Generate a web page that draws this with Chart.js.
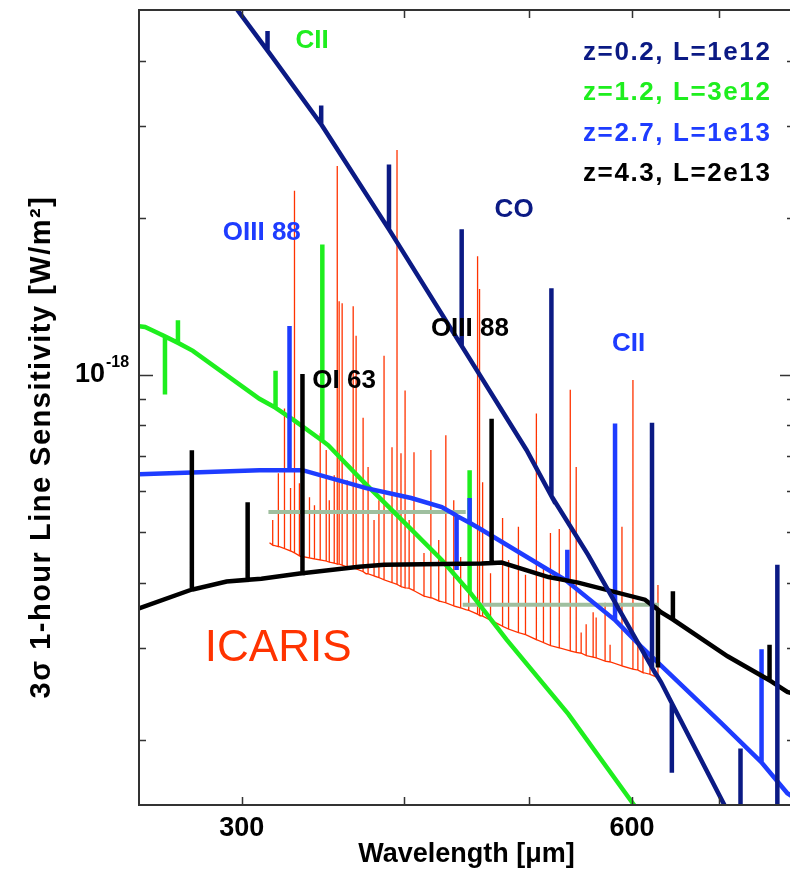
<!DOCTYPE html>
<html>
<head>
<meta charset="utf-8">
<title>3σ 1-hour line sensitivity</title>
<script src="https://cdn.jsdelivr.net/npm/chart.js@4.4.1/dist/chart.umd.min.js"></script>
<style>
  html, body { margin: 0; padding: 0; background: #fff; overflow: hidden; }
  #wrap { position: relative; width: 800px; height: 871px; }
</style>
</head>
<body>
<div id="wrap"><canvas id="sens-chart" width="800" height="871"></canvas></div>
<script>
// flux values are in units of 1e-18 W/m^2, wavelengths in micron
const X_TICKS = [300, 400, 500, 600, 700];
const X_LABELS = [300, 600];
const Y_TICKS = [0.2, 0.3, 0.4, 0.5, 0.6, 0.7, 0.8, 0.9, 1, 2, 3, 4];

// model curves: [wavelength, flux]; lines: [wavelength, base, peak]
const navyCurve = [[291, 5.40], [497.5, 0.718], [555, 0.452], [631.7, 0.258], [707, 0.150], [800, 0.084]];
const navyLines = [[314.1, 4.18, 4.56], [345.5, 3.02, 3.28], [389.7, 1.90, 2.53], [443.4, 1.136, 1.90],
  [520, 0.586, 1.466], [621.7, 0.275, 0.81], [644, 0.235, 0.173], [727.5, 0.131, 0.1925], [776.7, 0.0953, 0.433]];

const greenCurve = [[250, 1.240], [252.7, 1.235], [259.5, 1.198], [275.1, 1.112], [309.6, 0.900], [329.5, 0.817],
  [349.9, 0.733], [371.5, 0.628], [396.7, 0.534], [428, 0.442], [454.5, 0.371], [480.2, 0.311], [535.9, 0.224],
  [601, 0.151], [628.3, 0.1296]];
const greenLines = [[261.8, 1.185, 0.917], [267.9, 1.152, 1.273], [318.6, 0.865, 1.018], [346.2, 0.748, 1.777],
  [449.7, 0.384, 0.657]];

const blueCurve = [[250, 0.645], [278.5, 0.651], [309.6, 0.657], [334.2, 0.657], [374.2, 0.607], [405.3, 0.581],
  [428, 0.558], [438.7, 0.539], [459.4, 0.505], [517.3, 0.423], [533, 0.405], [609.6, 0.302], [628.3, 0.281],
  [702.2, 0.216], [790.6, 0.158], [800, 0.155]];
const blueLines = [[326.6, 0.657, 1.240], [439.4, 0.537, 0.423], [449.7, 0.521, 0.581], [534.9, 0.402, 0.4625],
  [582.2, 0.339, 0.807], [755.2, 0.181, 0.298]];

const blackCurve = [[250, 0.357], [275.1, 0.388], [292.1, 0.402], [310.7, 0.407], [333.6, 0.417], [369.5, 0.429],
  [386.3, 0.433], [459.4, 0.435], [476, 0.437], [517.3, 0.410], [545.3, 0.400], [614, 0.371], [631.7, 0.351],
  [711, 0.289], [790.6, 0.247], [800, 0.245]];
const blackLines = [[274.6, 0.388, 0.7175], [303.2, 0.405, 0.570], [334.2, 0.417, 1.004], [467.6, 0.436, 0.824],
  [628.3, 0.355, 0.275], [645.2, 0.340, 0.385], [766, 0.260, 0.304]];

const grayA = [[314.6, 0.546], [446.6, 0.546]];
const grayB = [[444.2, 0.363], [629.4, 0.363]];

// ICARIS spectrum: continuum plus emission lines
const icarisContinuum = [[315.2, 0.477], [320.8, 0.469], [329.5, 0.456], [338.4, 0.446], [350.5, 0.438],
  [363.1, 0.429], [374.2, 0.416], [386.3, 0.405], [396.7, 0.395], [420.6, 0.374], [446.6, 0.355], [473.4, 0.333],
  [512.7, 0.307], [543.3, 0.294], [577.1, 0.282], [611.8, 0.269], [628.3, 0.263]];
const icarisLines = [[317, 0.472, 0.527], [320.2, 0.469, 0.648], [323.7, 0.465, 0.862], [327.2, 0.460, 0.607],
  [329.5, 0.456, 2.253], [332.4, 0.450, 0.620], [338.4, 0.446, 0.583], [341.4, 0.444, 0.563], [344.9, 0.442, 0.773],
  [348.6, 0.440, 0.718], [350.5, 0.438, 0.575], [353.6, 0.436, 0.642], [355.5, 0.434, 2.513], [356.7, 0.434, 1.384],
  [358.6, 0.432, 1.372], [361.8, 0.429, 0.628], [365.7, 0.427, 1.354], [367.6, 0.425, 1.188], [372.2, 0.420, 0.828],
  [375.5, 0.416, 0.666], [379.5, 0.412, 0.527], [382.8, 0.409, 0.575], [386.3, 0.405, 1.088], [391.8, 0.400, 0.727],
  [395.3, 0.397, 2.696], [398.1, 0.393, 0.708], [401, 0.391, 0.933], [403.9, 0.390, 0.527], [407.4, 0.386, 0.711],
  [414.7, 0.377, 0.456], [419.8, 0.374, 0.718], [425.7, 0.369, 0.483], [431.1, 0.366, 0.766], [437.2, 0.361, 0.575],
  [442.6, 0.358, 0.448], [449, 0.354, 0.483], [456.1, 0.348, 1.687], [457.7, 0.346, 1.460], [460.2, 0.345, 0.623],
  [466.7, 0.339, 0.417], [476.8, 0.330, 0.532], [481.9, 0.326, 0.442], [490.4, 0.321, 0.512], [496.6, 0.318, 0.414],
  [506.3, 0.311, 0.843], [512.7, 0.307, 0.429], [519.1, 0.303, 0.498], [527.3, 0.300, 0.507], [537.7, 0.296, 0.937],
  [543.4, 0.294, 0.666], [548.2, 0.293, 0.321], [553.1, 0.290, 0.333], [560, 0.288, 0.351], [563, 0.287, 0.343],
  [572, 0.283, 0.366], [577.1, 0.282, 0.304], [589.4, 0.277, 0.512], [601, 0.273, 0.978], [606.3, 0.272, 0.304],
  [611.8, 0.269, 0.294], [619.5, 0.267, 0.292], [628.3, 0.263, 0.396]];

const LEGEND = ['z=0.2, L=1e12', 'z=1.2, L=3e12', 'z=2.7, L=1e13', 'z=4.3, L=2e13'];

const NAVY = '#0b1a84';
const GREEN = '#1eee1e';
const BLUE = '#1e3cff';
const BLACK = '#000000';
const RED = '#ff3300';
const GRAY = '#9fbf9f';
const FONT = "'Liberation Sans', Arial, Helvetica, sans-serif";

// line labels, anchored in data space
const NOTES = [
  { text: 'CII', x: 330.1, y: 4.37, color: GREEN },
  { text: 'OIII 88', x: 290.1, y: 1.874, color: BLUE },
  { text: 'CO', x: 470.1, y: 2.073, color: NAVY },
  { text: 'OIII 88', x: 419.8, y: 1.225, color: BLACK },
  { text: 'OI 63', x: 340.1, y: 0.974, color: BLACK },
  { text: 'CII', x: 579.1, y: 1.146, color: BLUE },
];
const ICARIS_NOTE = { text: 'ICARIS', x: 281, y: 0.299, color: RED };

function trace(curve, lines) {
  const pts = curve.map(([x, y]) => ({ x, y, k: 0 }));
  lines.forEach(([x, base, peak]) => {
    pts.push({ x, y: base, k: 1 }, { x, y: peak, k: 2 }, { x, y: base, k: 3 });
  });
  pts.sort((a, b) => a.x - b.x || a.k - b.k);
  return pts.map(({ x, y }) => ({ x, y }));
}

function series(label, data, color, width, order) {
  return {
    label, data, order,
    borderColor: color,
    borderWidth: width,
    pointRadius: 0,
    fill: false,
    tension: 0,
    clip: 0,
    borderJoinStyle: 'miter',
  };
}

const framePlugin = {
  id: 'frame',
  afterDraw(chart) {
    const { ctx, chartArea: a, scales: { x, y } } = chart;
    ctx.save();
    ctx.strokeStyle = '#333';
    ctx.lineWidth = 2;
    ctx.strokeRect(a.left, a.top, a.right - a.left, a.bottom - a.top);

    ctx.lineWidth = 1.5;
    ctx.beginPath();
    x.ticks.forEach((t) => {
      const px = Math.round(x.getPixelForValue(t.value)) + 0.5;
      ctx.moveTo(px, a.bottom); ctx.lineTo(px, a.bottom - 8);
      ctx.moveTo(px, a.top); ctx.lineTo(px, a.top + 8);
    });
    y.ticks.forEach((t) => {
      const py = Math.round(y.getPixelForValue(t.value)) + 0.5;
      const len = Math.abs(t.value - 1) < 1e-9 ? 14 : 7;
      ctx.moveTo(a.left, py); ctx.lineTo(a.left + len, py);
      ctx.moveTo(a.right, py); ctx.lineTo(a.right - len, py);
    });
    ctx.stroke();

    // 10^-18 tick label
    const p1 = y.getPixelForValue(1);
    ctx.fillStyle = '#000';
    ctx.textBaseline = 'middle';
    ctx.textAlign = 'right';
    ctx.font = `bold 27px ${FONT}`;
    ctx.fillText('10', 105, p1);
    ctx.textAlign = 'left';
    ctx.font = `bold 16px ${FONT}`;
    ctx.fillText('-18', 106, p1 - 12);

    // y axis title
    ctx.save();
    ctx.translate(42, 447);
    ctx.rotate(-Math.PI / 2);
    ctx.textAlign = 'center';
    ctx.font = `bold 29px ${FONT}`;
    if ('letterSpacing' in ctx) ctx.letterSpacing = '1.5px';
    ctx.fillText('3σ 1-hour Line Sensitivity [W/m²]', 0, 0);
    ctx.restore();

    // line labels
    ctx.textAlign = 'left';
    ctx.font = `bold 26px ${FONT}`;
    NOTES.forEach((n) => {
      ctx.fillStyle = n.color;
      ctx.fillText(n.text, x.getPixelForValue(n.x), y.getPixelForValue(n.y));
    });
    ctx.font = `44px ${FONT}`;
    ctx.fillStyle = ICARIS_NOTE.color;
    ctx.fillText(ICARIS_NOTE.text, x.getPixelForValue(ICARIS_NOTE.x), y.getPixelForValue(ICARIS_NOTE.y));

    // legend, top right
    const colors = [NAVY, GREEN, BLUE, BLACK];
    ctx.font = `bold 26px ${FONT}`;
    if ('letterSpacing' in ctx) ctx.letterSpacing = '1.6px';
    LEGEND.forEach((txt, i) => {
      ctx.fillStyle = colors[i];
      ctx.fillText(txt, a.right - 211, a.top + 42.5 + i * 40.5);
    });
    ctx.restore();
  },
};

const ctx = document.getElementById('sens-chart').getContext('2d');
new Chart(ctx, {
  type: 'line',
  data: {
    datasets: [
      series('z=0.2, L=1e12', trace(navyCurve, navyLines), NAVY, 4.5, 1),
      series('z=4.3, L=2e13', trace(blackCurve, blackLines), BLACK, 4.5, 2),
      series('z=2.7, L=1e13', trace(blueCurve, blueLines), BLUE, 4.5, 3),
      series('z=1.2, L=3e12', trace(greenCurve, greenLines), GREEN, 4.5, 4),
      series('limit A', grayA.map(([x, y]) => ({ x, y })), GRAY, 4, 5),
      series('limit B', grayB.map(([x, y]) => ({ x, y })), GRAY, 4, 6),
      series('ICARIS', trace(icarisContinuum, icarisLines), RED, 1.3, 7),
    ],
  },
  options: {
    responsive: false,
    animation: false,
    layout: { padding: { top: 10, right: 6, left: 0, bottom: 0 } },
    plugins: { legend: { display: false }, tooltip: { enabled: false } },
    scales: {
      x: {
        type: 'logarithmic',
        min: 250,
        max: 800,
        grid: { display: false, drawTicks: false },
        border: { display: false },
        afterBuildTicks: (s) => { s.ticks = X_TICKS.map((v) => ({ value: v })); },
        afterFit: (s) => { s.height = 66; },
        ticks: {
          autoSkip: false,
          maxRotation: 0,
          padding: 7,
          color: '#000',
          font: { family: FONT, size: 27, weight: 'bold' },
          callback: (v) => (X_LABELS.includes(v) ? String(v) : ''),
        },
        title: {
          display: true,
          text: 'Wavelength [μm]',
          color: '#000',
          font: { family: FONT, size: 27, weight: 'bold' },
          padding: { top: 0, bottom: 0 },
        },
      },
      y: {
        type: 'logarithmic',
        min: 0.15,
        max: 5,
        grid: { display: false, drawTicks: false },
        border: { display: false },
        ticks: { display: false },
        afterBuildTicks: (s) => { s.ticks = Y_TICKS.map((v) => ({ value: v })); },
        afterFit: (s) => { s.width = 139; },
      },
    },
  },
  plugins: [framePlugin],
});
</script>
</body>
</html>
